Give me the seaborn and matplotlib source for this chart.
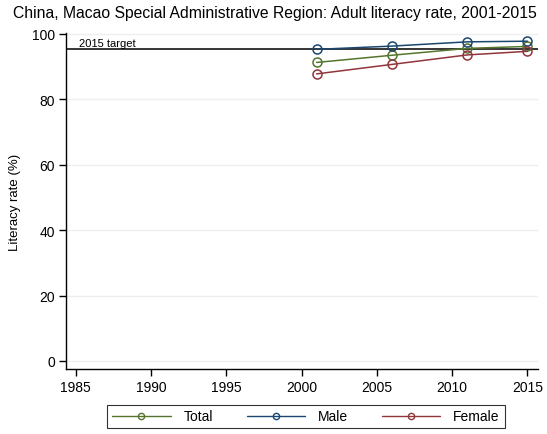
import matplotlib
matplotlib.use("Agg")
import matplotlib.pyplot as plt
import seaborn as sns
import pandas as pd
from matplotlib.lines import Line2D

years = [2001, 2006, 2011, 2015]
total = [91.3, 93.5, 95.6, 96.2]
male = [95.3, 96.3, 97.6, 97.8]
female = [87.8, 90.7, 93.6, 94.7]
target = 95.4
series_names = ["Total", "Male", "Female"]
colors = ["#55752f", "#1a476f", "#90353b"]
xticks = [1985, 1990, 1995, 2000, 2005, 2010, 2015]
yticks = [0, 20, 40, 60, 80, 100]

sns.set_style("white")
plt.rcParams['font.family'] = ['Liberation Sans', 'DejaVu Sans']
plt.rcParams['text.color'] = 'black'
plt.rcParams['axes.labelcolor'] = 'black'
plt.rcParams['xtick.color'] = 'black'
plt.rcParams['ytick.color'] = 'black'

fig = plt.figure(figsize=(5.47, 4.35), dpi=100)
ax = fig.add_axes([0.1207, 0.1494, 0.8629, 0.7724])

for y in yticks:
    ax.axhline(y, color="#eeeeee", lw=1.0, zorder=0)

data = {"Total": total, "Male": male, "Female": female}
for name, c in zip(series_names, colors):
    df = pd.DataFrame({"year": years, "value": data[name]})
    sns.lineplot(data=df, x="year", y="value", ax=ax, color=c, lw=1.1,
                 marker="o", markersize=6.5, markerfacecolor="none",
                 markeredgecolor=c, markeredgewidth=1.1, zorder=3)

ax.axhline(target, color="black", lw=1.1, zorder=2)
ax.text(1985.2, target + 0.4, "2015 target", fontsize=8, va="bottom", ha="left", color="black")

ax.set_xlim(1984.36, 2015.7)
ax.set_ylim(-2.45, 100.3)
ax.set_xticks(xticks)
ax.set_yticks(yticks)
ax.tick_params(axis="both", which="major", bottom=True, left=True, direction="out",
               length=5, width=1, labelsize=10, color="black", labelcolor="black", pad=3)
for s in ["top", "right"]:
    ax.spines[s].set_visible(False)
for s in ["left", "bottom"]:
    ax.spines[s].set_color("black")
    ax.spines[s].set_linewidth(1)
ax.set_xlabel("")
ax.set_ylabel("Literacy rate (%)", fontsize=9.5, labelpad=8, color="black")

fig.suptitle("China, Macao Special Administrative Region: Adult literacy rate, 2001-2015",
             fontsize=11.3, x=0.503, y=0.987, color="black")

handles = [Line2D([0], [0], color=c, lw=1, marker="o", markersize=4.5,
                  markerfacecolor="none", markeredgecolor=c) for c in colors]
leg = fig.legend(handles, series_names, loc="center", ncol=3,
                 bbox_to_anchor=(306 / 547, 1 - 417.5 / 435), frameon=True,
                 fancybox=False, edgecolor="black", fontsize=10,
                 handlelength=4.2, columnspacing=2.4, handletextpad=0.95,
                 borderpad=0.35, labelcolor="black")
leg.get_frame().set_linewidth(0.8)

fig.savefig("out.png", dpi=100, facecolor="white")
